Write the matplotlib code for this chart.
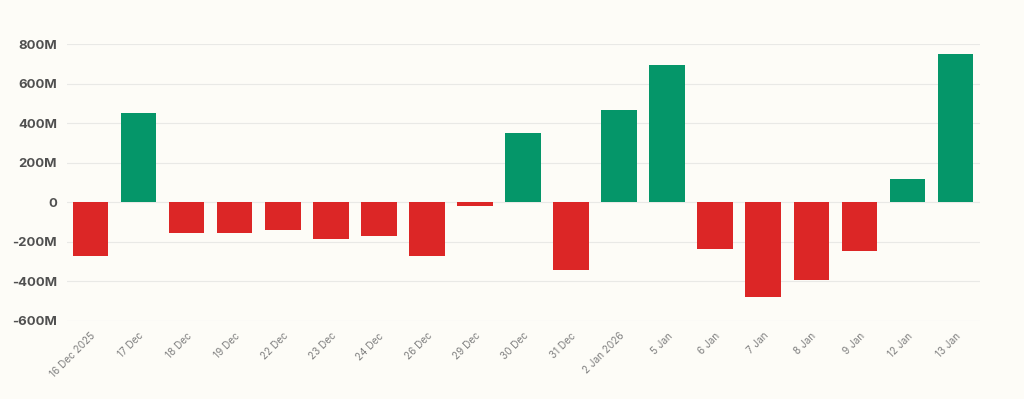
import matplotlib.pyplot as plt
import numpy as np

dates = ['16 Dec 2025', '17 Dec', '18 Dec', '19 Dec', '22 Dec', '23 Dec', '24 Dec',
         '26 Dec', '29 Dec', '30 Dec', '31 Dec', '2 Jan 2026', '5 Jan', '6 Jan',
         '7 Jan', '8 Jan', '9 Jan', '12 Jan', '13 Jan']
# net flow, millions
flows = [-272, 453, -157, -153, -138, -185, -172, -272, -17, 352, -342, 467, 692,
         -238, -478, -392, -245, 117, 747]
yticks = [-600, -400, -200, 0, 200, 400, 600, 800]

bg = '#fdfcf7'
green = '#059669'
red = '#dc2626'

plt.rcParams['font.family'] = ['Inter', 'DejaVu Sans']

fig = plt.figure(figsize=(10.24, 3.99), dpi=100, facecolor=bg)
ax = fig.add_axes([0.0654, 0.1955, 0.8916, 0.6942], facecolor=bg)

x = np.arange(len(dates))
colors = [green if v >= 0 else red for v in flows]
ax.bar(x, flows, width=0.74, color=colors, zorder=3)

ax.set_ylim(-600, 800)
ax.set_xlim(-0.49, len(dates) - 1 + 0.51)
ax.set_yticks(yticks)
ax.set_yticklabels([f'{v}M' if v != 0 else '0' for v in yticks],
                   fontsize=9.5, fontweight='bold', color='#505050')
ax.set_xticks(x)
ax.set_xticklabels(dates, rotation=45, ha='right', rotation_mode='anchor',
                   fontsize=7.2, color='#808080')
ax.tick_params(axis='both', length=0)
ax.tick_params(axis='y', pad=7)
ax.tick_params(axis='x', pad=7)
ax.grid(axis='y', color='#e9e9e6', linewidth=0.8, zorder=0)
for s in ax.spines.values():
    s.set_visible(False)

fig.savefig('out.png', dpi=100, facecolor=bg)
